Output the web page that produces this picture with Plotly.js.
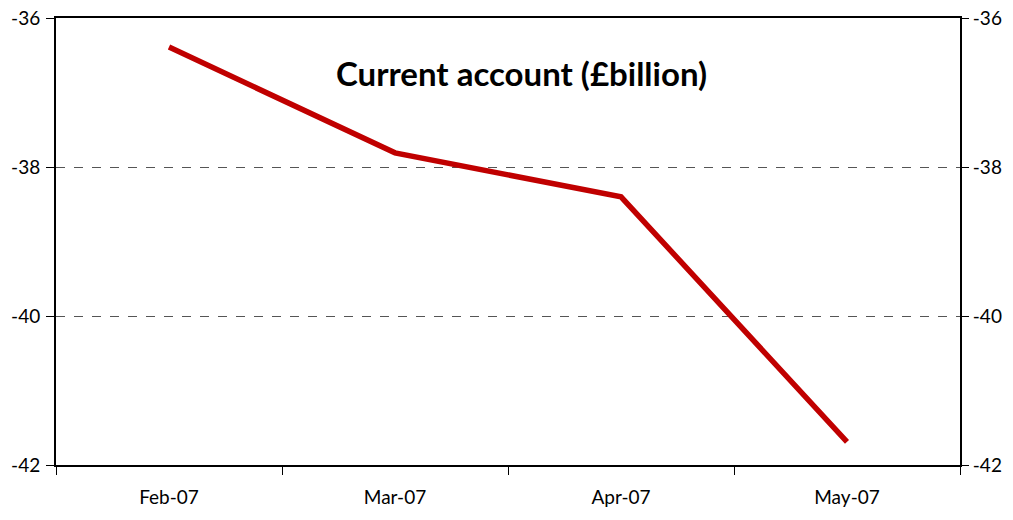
<!DOCTYPE html>
<html><head><meta charset="utf-8">
<script src="https://cdn.plot.ly/plotly-3.0.1.min.js"></script>
<style>body{margin:0;background:#fff}#c{width:1013px;height:520px}</style>
</head><body><div id="c"></div>
<script>
const categories = ["Feb-07", "Mar-07", "Apr-07", "May-07"];
const currentAccount = [-36.39, -37.81, -38.40, -41.69];
const yTicks = [-36, -38, -40, -42];

const font = {family: "Lato, 'Open Sans', sans-serif", size: 19, color: "#000"};
const data = [
  {x: categories, y: currentAccount, type: "scatter", mode: "lines",
   line: {color: "#C00000", width: 5.5}, hoverinfo: "skip", showlegend: false},
  {x: categories, y: currentAccount, type: "scatter", mode: "lines", yaxis: "y2",
   line: {width: 0}, opacity: 0, hoverinfo: "skip", showlegend: false}
];
const yBase = {range: [-42, -36], tickvals: yTicks, ticktext: yTicks.map(String),
  ticks: "outside", ticklen: 8, tickcolor: "#000", tickwidth: 1, zeroline: false,
  tickfont: font, fixedrange: true};
const layout = {
  width: 1013, height: 520,
  margin: {l: 56, r: 53, t: 18, b: 55},
  paper_bgcolor: "#fff", plot_bgcolor: "#fff",
  xaxis: {type: "category", range: [-0.5, 3.5], tickson: "boundaries",
    ticks: "outside", ticklen: 8, tickcolor: "#000", showline: true, linecolor: "#000",
    linewidth: 2, mirror: true, tickfont: font, showgrid: false, fixedrange: true,
    ticklabelstandoff: 14},
  yaxis: Object.assign({}, yBase, {showline: true, linecolor: "#000", linewidth: 2,
    mirror: true, showgrid: true, gridcolor: "#555", griddash: "dash", gridwidth: 1,
    ticklabelstandoff: 2}),
  yaxis2: Object.assign({}, yBase, {overlaying: "y", side: "right", showgrid: false,
    showline: false}),
  annotations: [{text: "<b>Current account (£billion)</b>", xref: "paper", yref: "paper",
    x: 0.515, y: 0.877, xanchor: "center", yanchor: "middle", showarrow: false,
    font: {family: "Lato, 'Open Sans', sans-serif", size: 33, weight: 900, color: "#000"}}]
};
Plotly.newPlot("c", data, layout, {displayModeBar: false, staticPlot: true});
</script></body></html>
